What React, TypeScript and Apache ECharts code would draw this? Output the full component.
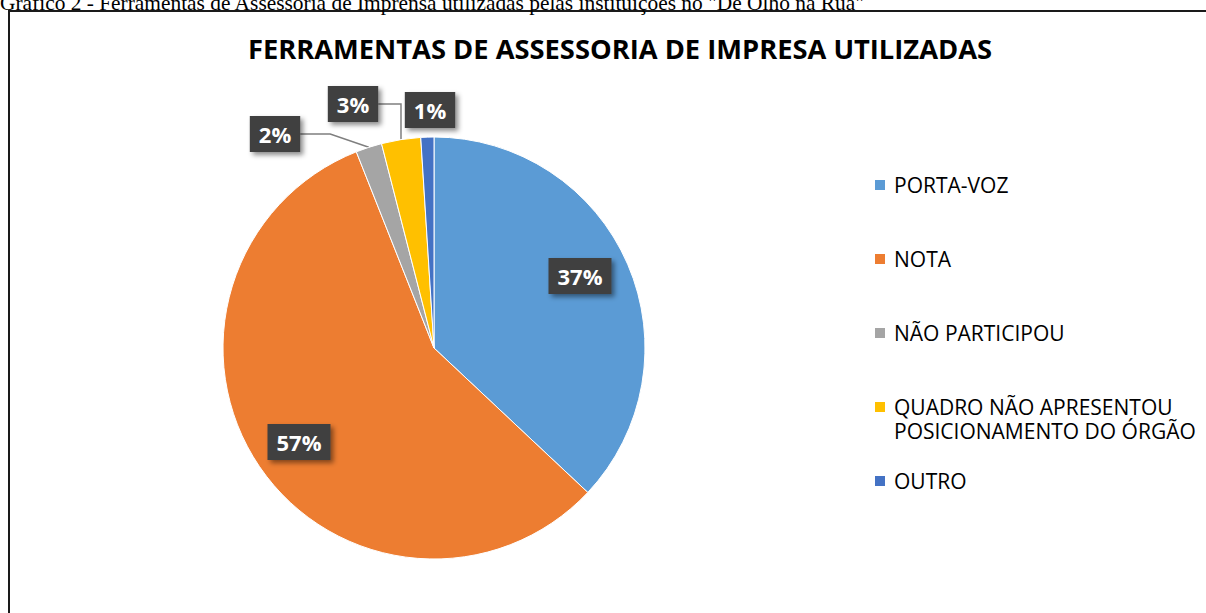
import React, { useEffect, useRef } from "react";
import * as echarts from "echarts";

const categories = [
  "PORTA-VOZ",
  "NOTA",
  "NÃO PARTICIPOU",
  "QUADRO NÃO APRESENTOU POSICIONAMENTO DO ÓRGÃO",
  "OUTRO",
];
const values = [37, 57, 2, 3, 1];
const colors = ["#5B9BD5", "#ED7D31", "#A5A5A5", "#FFC000", "#4472C4"];
const titleText = "FERRAMENTAS DE ASSESSORIA DE IMPRESA UTILIZADAS";
const captionText =
  'Gráfico 2 - Ferramentas de Assessoria de Imprensa utilizadas pelas instituições no "De Olho na Rua"';
const legendLongLines = ["QUADRO NÃO APRESENTOU", "POSICIONAMENTO DO ÓRGÃO"];

// label box anchor positions (layout only)
const labelAnchors: number[][] = [
  [580, 276],
  [299, 442],
  [275, 134],
  [353, 104],
  [430, 110],
];

export default function App() {
  const ref = useRef<HTMLDivElement>(null);
  useEffect(() => {
    if (!ref.current) return;
    const chart = echarts.init(ref.current, undefined, { renderer: "svg" });
    const font = "Open Sans";
    const legendText = {
      fontFamily: font,
      fontSize: 21,
      color: "#000",
      lineHeight: 24,
      padding: [0, 0, 0, 3],
    };
    const data = categories.map((name, i) => ({
      name,
      value: values[i],
      itemStyle: { color: colors[i] },
      label: { position: i < 2 ? "inside" : "outside" },
      labelLine: { show: i >= 2 && i < 4 },
    }));
    chart.setOption({
      animation: false,
      backgroundColor: "#fff",
      title: {
        text: titleText,
        left: 615,
        top: 30,
        textAlign: "center",
        textStyle: {
          fontFamily: font,
          fontSize: 27.3,
          fontWeight: "bold",
          color: "#000",
        },
      },
      legend: [
        {
          orient: "vertical",
          left: 873,
          top: 173,
          padding: 0,
          itemGap: 50,
          itemWidth: 12,
          itemHeight: 12,
          icon: "rect",
          selectedMode: false,
          data: categories.slice(0, 3),
          textStyle: legendText,
        },
        {
          orient: "vertical",
          left: 873,
          top: 371,
          padding: 0,
          itemWidth: 12,
          itemHeight: 12,
          icon: "rect",
          selectedMode: false,
          data: [categories[3]],
          formatter: () => "\n" + legendLongLines.join("\n"),
          textStyle: { ...legendText, lineHeight: 24 },
        },
        {
          orient: "vertical",
          left: 873,
          top: 469,
          padding: 0,
          itemWidth: 12,
          itemHeight: 12,
          icon: "rect",
          selectedMode: false,
          data: [categories[4]],
          textStyle: legendText,
        },
      ],
      graphic: [
        {
          type: "text",
          left: 0,
          top: -8,
          silent: true,
          style: {
            text: captionText,
            font: '21.4px "Liberation Serif"',
            fill: "#000",
          },
        },
        {
          type: "rect",
          shape: { x: 9, y: 11, width: 1260, height: 700 },
          silent: true,
          z: -1,
          style: { fill: "none", stroke: "#1a1a1a", lineWidth: 2 },
        },
      ],
      series: [
        {
          type: "pie",
          center: [434, 348],
          radius: 211,
          startAngle: 90,
          clockwise: true,
          avoidLabelOverlap: false,
          itemStyle: { borderColor: "#fff", borderWidth: 1 },
          label: {
            show: true,
            formatter: "{d}%",
            fontFamily: font,
            fontSize: 22,
            fontWeight: "bold",
            color: "#fff",
            backgroundColor: "#404040",
            padding: [7, 9, 7, 9],
            shadowColor: "rgba(0,0,0,0.45)",
            shadowBlur: 5,
            shadowOffsetX: 3,
            shadowOffsetY: 3,
          },
          labelLine: {
            show: true,
            lineStyle: { color: "#7f7f7f", width: 1.5 },
          },
          labelLayout: (params: any) => {
            const p = labelAnchors[params.dataIndex];
            return { x: p[0], y: p[1], align: "center", verticalAlign: "middle" };
          },
          emphasis: { disabled: true },
          data,
        },
      ],
    });
    return () => chart.dispose();
  }, []);
  return (
    <div
      ref={ref}
      style={{
        position: "absolute",
        left: 0,
        top: 0,
        width: 1206,
        height: 613,
        overflow: "hidden",
      }}
    />
  );
}
